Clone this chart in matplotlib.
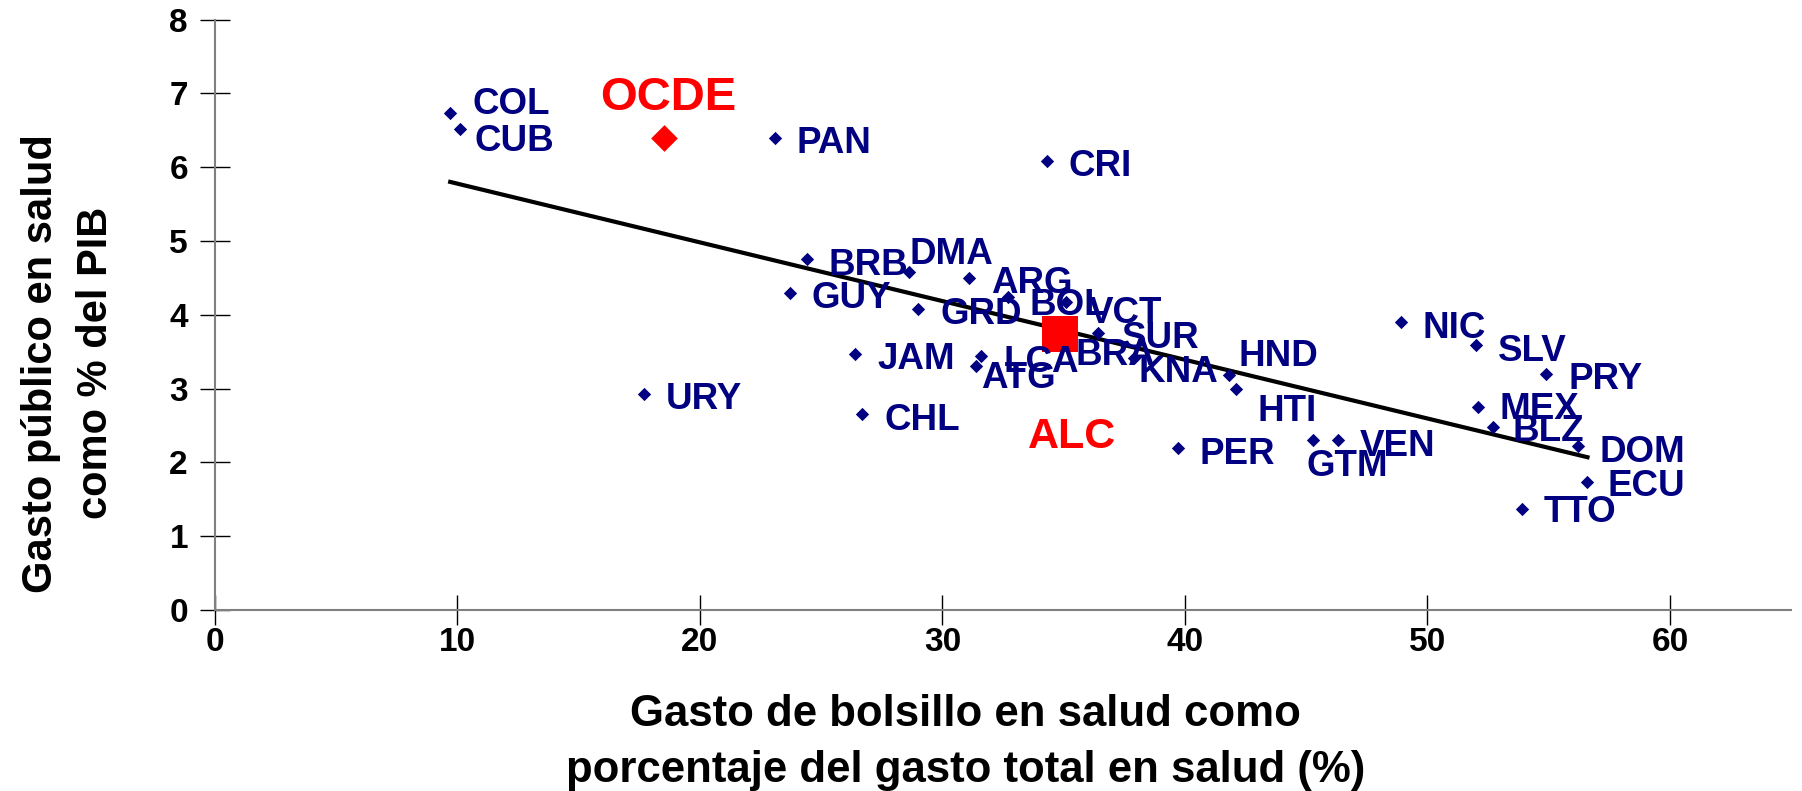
import matplotlib.pyplot as plt

# Countries: out-of-pocket share of health spending (x) vs public health spending % GDP (y)
countries = ["COL", "CUB", "PAN", "CRI", "BRB", "DMA", "ARG", "GUY", "GRD", "BOL",
             "VCT", "SUR", "BRA", "KNA", "HND", "JAM", "LCA", "ATG", "CHL", "URY",
             "HTI", "PER", "GTM", "VEN", "NIC", "SLV", "PRY", "MEX", "BLZ", "DOM",
             "ECU", "TTO"]
gasto_bolsillo = [9.7, 10.1, 23.1, 34.3, 24.4, 28.6, 31.1, 23.7, 29.0, 32.7,
                  35.1, 36.4, 34.6, 37.9, 41.8, 26.4, 31.6, 31.4, 26.7, 17.7,
                  42.1, 39.7, 45.3, 46.3, 48.9, 52.0, 54.9, 52.1, 52.7, 56.2,
                  56.6, 53.9]
gasto_publico = [6.74, 6.52, 6.40, 6.09, 4.75, 4.58, 4.50, 4.30, 4.08, 4.24,
                 4.17, 3.75, 3.59, 3.41, 3.18, 3.47, 3.44, 3.30, 2.65, 2.93,
                 3.00, 2.19, 2.30, 2.30, 3.90, 3.59, 3.20, 2.75, 2.48, 2.22,
                 1.74, 1.37]

# Reference groups
ocde_x, ocde_y = 18.5, 6.40
alc_x, alc_y = 34.85, 3.74

# Trend line end points
trend_x = [9.7, 56.6]
trend_y = [5.80, 2.07]

# label offsets (screen px at reference scale: dx to left edge, dy to centre, down positive)
default_off = (19, 2)
label_off = {
    "COL": (19, -10), "CUB": (13, 8), "DMA": (1, -18), "BOL": (19, 4),
    "VCT": (20, 7), "SUR": (21, 1), "BRA": (19, 6), "KNA": (4, 9),
    "HND": (9, -20), "ATG": (4, 7), "HTI": (19, 17), "GTM": (-6, 20),
    "MEX": (18, -1), "BLZ": (17, 1), "ECU": (17, 1), "TTO": (19, 0),
}
PX = 0.827  # reference px -> points

navy = "#000080"
lab_size = 26.5
plt.rcParams["font.family"] = ["Liberation Sans", "DejaVu Sans"]
plt.rcParams["font.weight"] = "bold"

fig = plt.figure(figsize=(18.02, 7.91), dpi=100)
ax = fig.add_axes([0.1193, 0.2288, 0.8747, 0.7465])

ax.plot(trend_x, trend_y, color="black", linewidth=3, zorder=2)
ax.scatter(gasto_bolsillo, gasto_publico, marker="D", s=46, color=navy,
           linewidths=0, zorder=3)
ax.scatter([ocde_x], [ocde_y], marker="D", s=185, color="red", linewidths=0, zorder=3)
ax.scatter([alc_x], [alc_y], marker="s", s=700, color="red", linewidths=0, zorder=3)

cap_half = 0.716 * lab_size / 2
for name, x, y in zip(countries, gasto_bolsillo, gasto_publico):
    dx, dy = label_off.get(name, default_off)
    ax.annotate(name, (x, y), xytext=(dx * PX, -dy * PX - cap_half),
                textcoords="offset points", ha="left", va="baseline",
                fontsize=lab_size, fontweight="bold", color=navy, zorder=4)

ax.annotate("OCDE", (ocde_x, ocde_y), xytext=(4 * PX, 39 * PX - 0.716 * 34 / 2),
            textcoords="offset points", ha="center", va="baseline",
            fontsize=34, fontweight="bold", color="red", zorder=4)
ax.annotate("ALC", (alc_x, alc_y), xytext=(10 * PX, -86 * PX - 0.716 * 31 / 2),
            textcoords="offset points", ha="center", va="baseline",
            fontsize=31, fontweight="bold", color="red", zorder=4)

ax.set_xlim(0, 65)
ax.set_ylim(0, 8)
ax.set_xticks(range(0, 61, 10))
ax.set_yticks(range(0, 9))
ax.tick_params(direction="inout", length=22, width=1, color="black",
               labelsize=24)
ax.tick_params(axis="x", pad=1)
ax.tick_params(axis="y", pad=8.5)
for lbl in ax.get_xticklabels() + ax.get_yticklabels():
    lbl.set_fontweight("bold")
for side in ("top", "right"):
    ax.spines[side].set_visible(False)
for side in ("left", "bottom"):
    ax.spines[side].set_color("#808080")
    ax.spines[side].set_linewidth(1.5)

fig.text(0.5356, 0.061,
         "Gasto de bolsillo en salud como\nporcentaje del gasto total en salud (%)",
         ha="center", va="center", fontsize=31.5, fontweight="bold", linespacing=1.47)
fig.text(0.038, 0.541, "Gasto público en salud\ncomo % del PIB",
         ha="center", va="center", rotation=90, fontsize=30, fontweight="bold",
         linespacing=1.5)

fig.savefig("out.png", dpi=100)
